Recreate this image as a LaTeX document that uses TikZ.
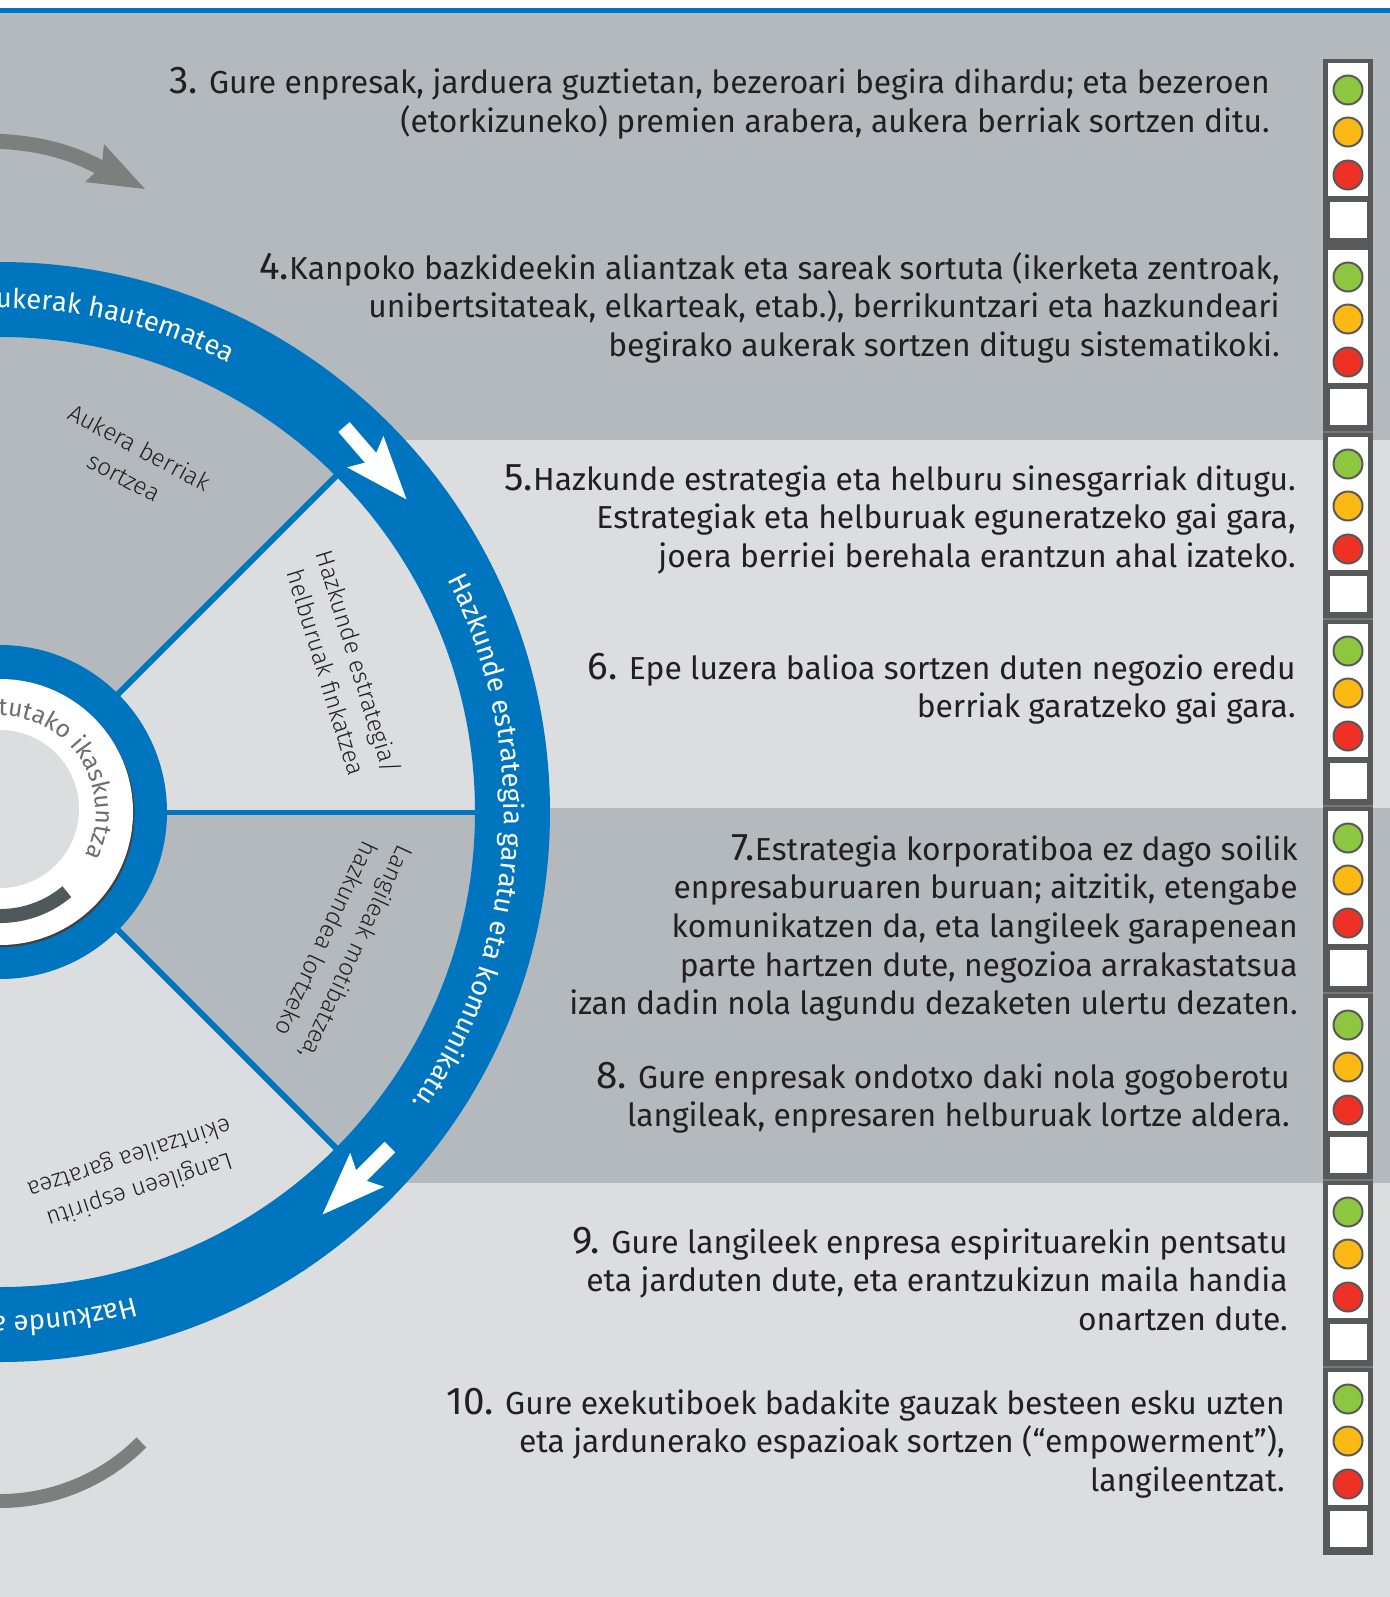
\documentclass[tikz,border=0pt]{standalone}
\usepackage{fontspec}
\setmainfont{Fira Sans}
\usepackage{tikz}
\usetikzlibrary{arrows.meta,decorations.text}

\definecolor{bandDark}{HTML}{B4B9BD}
\definecolor{bandLight}{HTML}{DCDDDF}
\definecolor{wheelBlue}{HTML}{0075BF}
\definecolor{arcGray}{HTML}{7B7F7E}
\definecolor{hubGray}{HTML}{4F585A}
\definecolor{hubText}{HTML}{6D6E71}
\definecolor{inkGray}{HTML}{231F20}
\definecolor{postGray}{HTML}{58595B}
\definecolor{postLine}{HTML}{77787A}
\definecolor{lampGreen}{HTML}{8DC63F}
\definecolor{lampOrange}{HTML}{FDB913}
\definecolor{lampRed}{HTML}{EE3124}

\newfontfamily\lightfont{Fira Sans}[UprightFont={* Light}]
\newcommand{\bodyfont}{\fontsize{18.1}{22}\selectfont}
\newcommand{\numfont}{\fontsize{22}{22}\selectfont}
\newcommand{\ringfont}{\fontsize{15.6}{18}\selectfont}
\newcommand{\sectorfont}{\lightfont\fontsize{13.8}{19}\selectfont}
\newcommand{\hubfont}{\fontsize{14}{16}\selectfont}

\tikzstyle{ItemText} = [font=\bodyfont, text=inkGray, align=right,
    anchor=base east, inner sep=0pt]
\tikzstyle{SectorText} = [font=\sectorfont, text=inkGray, align=center, inner sep=0pt]
\tikzstyle{RingArrow} = [draw=white, line width=0.3cm,
    -{Stealth[length=1.24cm, width=0.9cm, inset=0.2cm, fill=white]}]
\tikzstyle{lamp} = [draw=postGray, line width=0.04cm]

\begin{document}
\begin{tikzpicture}[x=0.02cm, y=0.02cm]
        \useasboundingbox (0,0) rectangle (1390,-1597);
        \clip (0,0) rectangle (1390,-1597);
        \fill [white] (0,0) rectangle (1390,-8);
        \fill [wheelBlue] (0,-8) rectangle (1390,-13); %top rule
        \fill [bandDark] (0,-13) rectangle (1390,-440);
        \fill [bandLight] (0,-440) rectangle (1390,-808);
        \fill [bandDark] (0,-808) rectangle (1390,-1183);
        \fill [bandLight] (0,-1183) rectangle (1390,-1597);

        \begin{scope}[shift={(0,-812)}]
            \fill [bandDark] (0,0) -- (45:475) arc[start angle=45, end angle=135, radius=475] -- cycle; %opportunities
            \fill [bandLight] (0,0) -- (0:475) arc[start angle=0, end angle=45, radius=475] -- cycle; %goals
            \fill [bandDark] (0,0) -- (-45:475) arc[start angle=-45, end angle=0, radius=475] -- cycle; %motivation
            \fill [bandLight] (0,0) -- (-135:475) arc[start angle=-135, end angle=-45, radius=475] -- cycle; %spirit
            \draw [wheelBlue, line width=0.12cm] (0,0) -- (45:480);
            \draw [wheelBlue, line width=0.1cm] (0,0) -- (0:480);
            \draw [wheelBlue, line width=0.12cm] (0,0) -- (-45:480);
            \draw [wheelBlue, line width=1.5cm] (0,0) circle (512.5); %outer ring
            \fill [wheelBlue] (0,0) circle (167); %hub
            \fill [black!75] (1.5,-2) circle (133); %hub shadow
            \fill [white] (0,0) circle (133);
            \fill [bandLight] (0,3) circle (79);
            \draw [hubGray, line width=0.28cm] (-50:104) arc[start angle=-50, end angle=-110, radius=104]; %hub arrow

            \path [decorate, decoration={text along path, text align=right,
                text={|\ringfont\color{white}|ukerak hautematea}}]
                (130:504) arc[start angle=130, end angle=63, radius=504];
            \path [decorate, decoration={text along path, text align=left,
                text={|\ringfont\color{white}|Hazkunde estrategia garatu eta komunikatu.}}]
                (27.5:504) arc[start angle=27.5, end angle=-80, radius=504];
            \path [decorate, decoration={text along path, text align=left,
                text={|\ringfont\color{white}|Hazkunde a}}]
                (-74.5:504) arc[start angle=-74.5, end angle=-130, radius=504];
            \path [decorate, decoration={text along path, text align=right,
                text={|\hubfont\color{hubText}|tutako ikaskuntza}}]
                (160:96) arc[start angle=160, end angle=-27, radius=96];
        \end{scope}

        \node [SectorText, rotate=-28] (SectorNew) at (132,-462) {Aukera berriak\\sortzea};
        \node [SectorText, rotate=-73] (SectorGoals) at (343,-667) {Hazkunde estrategia/\\helburuak finkatzea};
        \node [SectorText, rotate=-115] (SectorMotive) at (342,-946) {Langileak motibatzea,\\hazkundea lortzeko};
        \node [SectorText, rotate=-162] (SectorSpirit) at (134,-1173) {Langileen espiritu\\ekintzailea garatzea};

        \coordinate (TopArrowTail) at (344,-427);
        \coordinate (TopArrowTip) at (407,-500);
        \coordinate (LowArrowTail) at (390,-1147);
        \coordinate (LowArrowTip) at (322,-1215);
        \draw [RingArrow] (TopArrowTail) -- (TopArrowTip);
        \draw [RingArrow] (LowArrowTail) -- (LowArrowTip);

        \draw [arcGray, line width=0.3cm] (-10,-141) .. controls (35,-142) and (70,-151) .. (101,-168); %upper gray arc
        \fill [arcGray] (104,-144) -- (145,-189) -- (85,-182) -- (101.6,-166.7) -- cycle; %its head
        \coordinate (LowArcCenter) at (0,-1301);
        \draw [arcGray, line width=0.28cm] (LowArcCenter) ++(-45:200) arc[start angle=-45, end angle=-110, radius=200]; %lower gray arc

        % base anchor sits on the last line
        \node [ItemText] (ItemThree) at (1270,-132.2) {{\numfont 3.} Gure enpresak, jarduera guztietan, bezeroari begira dihardu; eta bezeroen\\(etorkizuneko) premien arabera, aukera berriak sortzen ditu.};
        \node [ItemText] (ItemFour) at (1280,-356.4) {{\numfont 4.}Kanpoko bazkideekin aliantzak eta sareak sortuta (ikerketa zentroak,\\unibertsitateak, elkarteak, etab.), berrikuntzari eta hazkundeari\\begirako aukerak sortzen ditugu sistematikoki.};
        \node [ItemText] (ItemFive) at (1296,-567.4) {{\numfont 5.}Hazkunde estrategia eta helburu sinesgarriak ditugu.\\Estrategiak eta helburuak eguneratzeko gai gara,\\joera berriei berehala erantzun ahal izateko.};
        \node [ItemText] (ItemSix) at (1296,-717.7) {{\numfont 6.} Epe luzera balioa sortzen duten negozio eredu\\berriak garatzeko gai gara.};
        \node [ItemText] (ItemSeven) at (1298,-1014.8) {{\numfont 7.}Estrategia korporatiboa ez dago soilik\\enpresaburuaren buruan; aitzitik, etengabe\\komunikatzen da, eta langileek garapenean\\parte hartzen dute, negozioa arrakastatsua\\izan dadin nola lagundu dezaketen ulertu dezaten.};
        \node [ItemText] (ItemEight) at (1290,-1126.7) {{\numfont 8.} Gure enpresak ondotxo daki nola gogoberotu\\langileak, enpresaren helburuak lortze aldera.};
        \node [ItemText] (ItemNine) at (1288,-1330.4) {{\numfont 9.} Gure langileek enpresa espirituarekin pentsatu\\eta jarduten dute, eta erantzukizun maila handia\\onartzen dute.};
        \node [ItemText] (ItemTen) at (1285,-1491.4) {{\numfont 10.} Gure exekutiboek badakite gauzak besteen esku uzten\\eta jardunerako espazioak sortzen (“empowerment”),\\langileentzat.};

        \fill [postGray] (1323,-59) rectangle (1373,-1555); %rating column
        \foreach \g in {437,624,811,998,1185,1372}
            \draw [postLine, line width=0.03cm] (1323,-\g+5) -- (1373,-\g+5);
        \foreach \g in {63,250,437,624,811,998,1185,1372} {
            \fill [white] (1328,-\g) rectangle (1368,-\g-133);
            \fill [white] (1330,-\g-139) rectangle (1367,-\g-175); %empty box
            \filldraw [lamp, fill=lampGreen] (1348,-\g-27) circle (14.5);
            \filldraw [lamp, fill=lampOrange] (1348,-\g-69) circle (14.5);
            \filldraw [lamp, fill=lampRed] (1348,-\g-112) circle (14.5);
        }
    \end{tikzpicture}
\end{document}
